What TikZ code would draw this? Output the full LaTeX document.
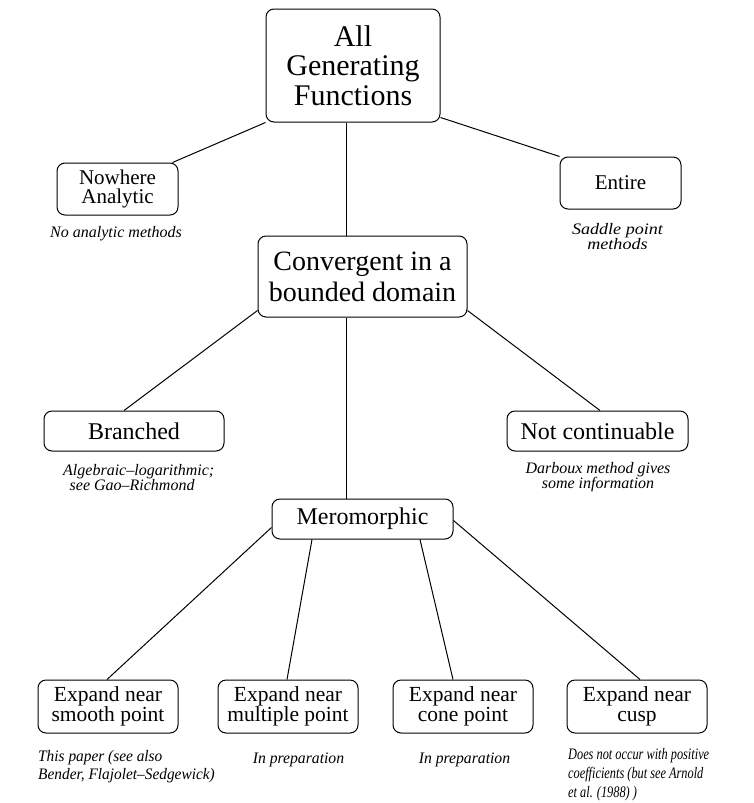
\documentclass[tikz,border=0pt]{standalone}
\usepackage{fontspec}
\setmainfont{Liberation Serif}
\newcommand\capt[3]{\scalebox{#1}[1]{\begin{tabular}{@{}#2@{}}#3\end{tabular}}}
\begin{document}
\begin{tikzpicture}[x=1pt,y=-1pt,
  box/.style={draw, line width=1pt, rounded corners=8pt, align=center, inner sep=0pt},
  link/.style={line width=1pt},
  note/.style={inner sep=0pt}]
\useasboundingbox (0,0) rectangle (754,803);
% boxes
\node[box, minimum width=174pt, minimum height=113pt, font=\fontsize{30}{29.5}\selectfont] (top) at (353,65.5) {All\\Generating\\Functions};
\node[box, minimum width=121pt, minimum height=52pt, font=\fontsize{21}{19.5}\selectfont] (nw) at (117.5,189) {Nowhere\\Analytic};
\node[box, minimum width=121pt, minimum height=52pt, font=\fontsize{21}{20}\selectfont] (ent) at (620.5,183) {Entire};
\node[box, minimum width=209pt, minimum height=81pt, font=\fontsize{28}{31}\selectfont] (conv) at (362.5,276.5) {Convergent in a\\bounded domain};
\node[box, minimum width=180pt, minimum height=40pt, font=\fontsize{24}{24}\selectfont] (br) at (134,431) {Branched};
\node[box, minimum width=181pt, minimum height=40pt, font=\fontsize{24}{24}\selectfont] (nc) at (597.5,431) {Not continuable};
\node[box, minimum width=181pt, minimum height=40pt, font=\fontsize{24}{24}\selectfont] (mero) at (362.5,519) {Meromorphic};
\node[box, minimum width=140pt, minimum height=53pt, font=\fontsize{21.5}{20}\selectfont] (b1) at (108,706.5) {Expand near\\smooth point};
\node[box, minimum width=140pt, minimum height=53pt, font=\fontsize{21.5}{20}\selectfont] (b2) at (288,706.5) {Expand near\\multiple point};
\node[box, minimum width=140pt, minimum height=53pt, font=\fontsize{21.5}{20}\selectfont] (b3) at (463,706.5) {Expand near\\cone point};
\node[box, minimum width=140pt, minimum height=53pt, font=\fontsize{21.5}{20}\selectfont] (b4) at (637,706.5) {Expand near\\cusp};
% captions
\node[note, anchor=north] (n1) at (116,226.6) {\fontsize{16}{12}\selectfont\itshape\capt{1.0}{c}{No analytic methods}};
\node[note, anchor=north] (n2) at (617.5,223.3) {\fontsize{16}{11}\selectfont\itshape\capt{1.13}{c}{Saddle point\\methods}};
\node[note, anchor=north west] (n3) at (63,464.3) {\fontsize{16}{11.5}\selectfont\itshape\capt{1.0}{l}{Algebraic--logarithmic;\\\hspace*{6.5pt}see Gao--Richmond}};
\node[note, anchor=north] (n4) at (598,462.6) {\fontsize{16}{12}\selectfont\itshape\capt{1.0}{c}{Darboux method gives\\some information}};
\node[note, anchor=north west] (n5) at (38,748.4) {\fontsize{16}{18}\selectfont\itshape\capt{0.96}{l}{This paper (see also\\Bender, Flajolet--Sedgewick)}};
\node[note, anchor=north] (n6) at (298.5,752.6) {\fontsize{16}{12}\selectfont\itshape\capt{0.98}{c}{In preparation}};
\node[note, anchor=north] (n7) at (464.5,752.6) {\fontsize{16}{12}\selectfont\itshape\capt{0.98}{c}{In preparation}};
\node[note, anchor=north west] (n8) at (568,745.7) {\fontsize{16}{19}\selectfont\itshape\capt{0.77}{l}{Does not occur with positive\\coefficients (but see Arnold\\et al. (1988) )}};
% connectors
\draw[link] (top.south west) -- ([xshift=-6pt]nw.north east);
\draw[link] ([yshift=5pt]top.south east) -- (ent.north west);
\draw[link] ([xshift=-7pt]top.south) -- ([xshift=-16.5pt]conv.north);
\draw[link] ([yshift=7pt]conv.south west) -- ([xshift=-10pt]br.north);
\draw[link] ([yshift=7pt]conv.south east) -- ([xshift=2.5pt]nc.north);
\draw[link] ([xshift=-16.5pt]conv.south) -- ([xshift=-16.5pt]mero.north);
\draw[link] ([yshift=12pt]mero.south west) -- ([xshift=-1pt]b1.north);
\draw[link] ([xshift=-50.5pt]mero.south) -- ([xshift=-1pt]b2.north);
\draw[link] ([xshift=57.5pt]mero.south) -- ([xshift=-10pt]b3.north);
\draw[link] ([yshift=19pt]mero.south east) -- ([xshift=3pt]b4.north);
\end{tikzpicture}
\end{document}
